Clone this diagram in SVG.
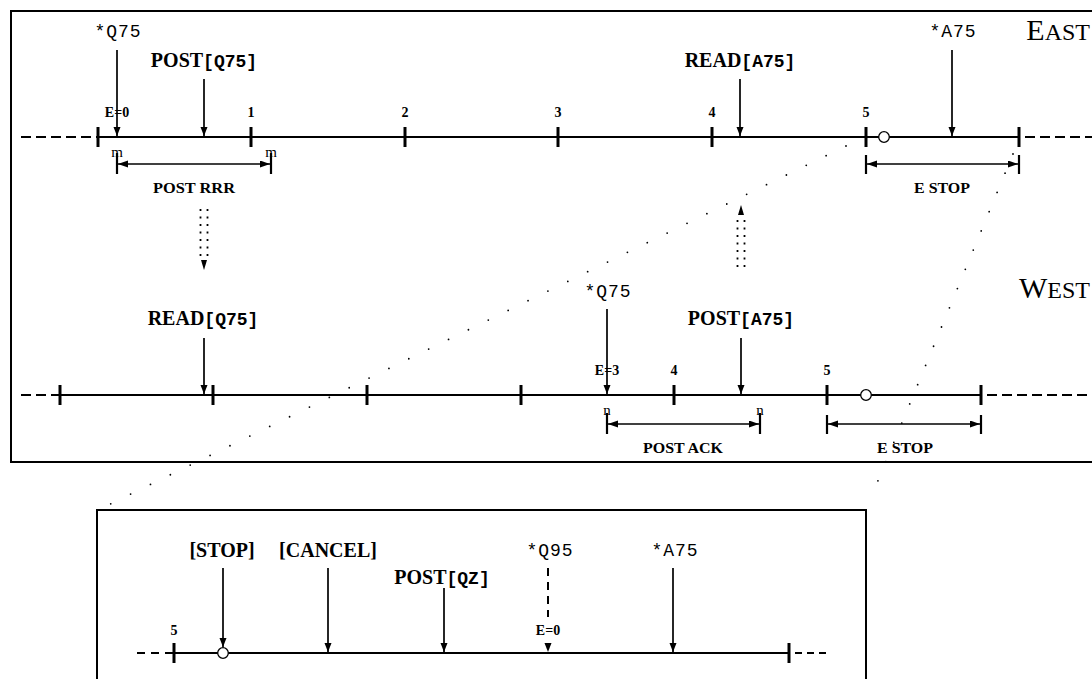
<svg xmlns="http://www.w3.org/2000/svg" width="1092" height="679" viewBox="0 0 1092 679">
<style>
.frame{fill:none;stroke:#000;stroke-width:2}
.axis{stroke:#000;stroke-width:2.2;fill:none}
.dash{stroke:#000;stroke-width:2.2;stroke-dasharray:10 5;fill:none}
.tick{stroke:#000;stroke-width:3}
.stem{stroke:#000;stroke-width:1.7;fill:none}
.dim{stroke:#000;stroke-width:1.7;fill:none}
.bar{stroke:#000;stroke-width:2.2}
.proj{stroke:#000;stroke-width:1.8;stroke-linecap:round;fill:none}
.dotcol{stroke:#000;stroke-width:1.8;stroke-dasharray:2 5.5;fill:none}
.hdr{font-family:"Liberation Serif",serif;font-weight:bold;font-size:20px;fill:#000}
.mb{font-family:"Liberation Mono",monospace;font-weight:bold;font-size:18px}
.mono{font-family:"Liberation Mono",monospace;font-size:18px;fill:#000;letter-spacing:1px}
.tk{font-family:"Liberation Serif",serif;font-weight:bold;font-size:14px;fill:#000}
.sm{font-family:"Liberation Serif",serif;font-size:15px;fill:#000}
.dl{font-family:"Liberation Serif",serif;font-weight:bold;font-size:14px;fill:#000}
.big{font-family:"Liberation Serif",serif;font-size:30px;fill:#000}
.cap{font-size:24px}
.ring{fill:#fff;stroke:#000;stroke-width:1.3}
</style>
<defs>
<marker id="ah" markerUnits="userSpaceOnUse" markerWidth="10" markerHeight="8" refX="9" refY="3.5" orient="auto"><path d="M0,0 L9,3.5 L0,7 z" fill="#000"/></marker>
<marker id="dh" markerUnits="userSpaceOnUse" markerWidth="11" markerHeight="8" refX="10" refY="3.5" orient="auto-start-reverse"><path d="M0,0 L10,3.5 L0,7 z" fill="#000"/></marker>
</defs>

<rect class="frame" x="11" y="11" width="1100" height="451"/>
<rect class="frame" x="97" y="510" width="769" height="200"/>

<g id="east-timeline">
<line class="dash" x1="21" y1="137" x2="98" y2="137"/>
<line class="axis" x1="98" y1="137" x2="1019" y2="137"/>
<line class="dash" x1="1025" y1="137" x2="1092" y2="137"/>
<g class="tick">
<line x1="98" y1="127" x2="98" y2="147"/><line x1="251" y1="127" x2="251" y2="147"/><line x1="405" y1="127" x2="405" y2="147"/><line x1="558" y1="127" x2="558" y2="147"/><line x1="712" y1="127" x2="712" y2="147"/><line x1="866" y1="127" x2="866" y2="147"/><line x1="1019" y1="127" x2="1019" y2="147"/>
</g>
<g class="tk" text-anchor="middle">
<text x="117" y="117">E=0</text><text x="251" y="117">1</text><text x="405" y="117">2</text><text x="558" y="117">3</text><text x="712" y="117">4</text><text x="866" y="117">5</text>
</g>
<circle class="ring" cx="884" cy="137" r="5.3"/>
<text class="big" x="1090" y="40" text-anchor="end">E<tspan class="cap">AST</tspan></text>
</g>

<g id="west-timeline">
<line class="dash" x1="21" y1="395" x2="60" y2="395"/>
<line class="axis" x1="60" y1="395" x2="981" y2="395"/>
<line class="dash" x1="987" y1="395" x2="1092" y2="395"/>
<g class="tick">
<line x1="60" y1="385" x2="60" y2="405"/><line x1="213" y1="385" x2="213" y2="405"/><line x1="367" y1="385" x2="367" y2="405"/><line x1="521" y1="385" x2="521" y2="405"/><line x1="674" y1="385" x2="674" y2="405"/><line x1="827" y1="385" x2="827" y2="405"/><line x1="981" y1="385" x2="981" y2="405"/>
</g>
<g class="tk" text-anchor="middle">
<text x="607" y="375">E=3</text><text x="674" y="375">4</text><text x="827" y="375">5</text>
</g>
<circle class="ring" cx="866" cy="395" r="5.3"/>
<text class="big" x="1090" y="298" text-anchor="end">W<tspan class="cap">EST</tspan></text>
</g>

<g id="detail-timeline">
<line class="dash" x1="137" y1="653" x2="174" y2="653" style="stroke-dasharray:8 6"/>
<line class="axis" x1="174" y1="653" x2="789" y2="653"/>
<line class="dash" x1="795" y1="653" x2="827" y2="653" style="stroke-dasharray:7 5"/>
<line class="tick" x1="174" y1="643" x2="174" y2="663"/>
<line class="tick" x1="789" y1="643" x2="789" y2="663"/>
<text class="tk" x="174" y="635" text-anchor="middle">5</text>
<text class="tk" x="548" y="635" text-anchor="middle">E=0</text>
<circle class="ring" cx="223" cy="653" r="5.3"/>
</g>

<g id="ev-q75-east"><text class="mono" x="118" y="37" text-anchor="middle">*Q75</text></g>
<g id="ev-post-q75"><text class="hdr" x="204" y="67" text-anchor="middle">POST<tspan class="mb">[Q75]</tspan></text></g>
<g id="ev-read-a75"><text class="hdr" x="740" y="67" text-anchor="middle">READ<tspan class="mb">[A75]</tspan></text></g>
<g id="ev-a75-east"><text class="mono" x="953" y="37" text-anchor="middle">*A75</text></g>
<g id="ev-read-q75"><text class="hdr" x="203" y="325" text-anchor="middle">READ<tspan class="mb">[Q75]</tspan></text></g>
<g id="ev-q75-west"><text class="mono" x="608" y="297" text-anchor="middle">*Q75</text></g>
<g id="ev-post-a75"><text class="hdr" x="741" y="325" text-anchor="middle">POST<tspan class="mb">[A75]</tspan></text></g>
<g id="ev-stop"><text class="hdr" x="222" y="557" text-anchor="middle">[STOP]</text></g>
<g id="ev-cancel"><text class="hdr" x="328" y="557" text-anchor="middle">[CANCEL]</text></g>
<g id="ev-post-qz"><text class="hdr" x="442" y="584" text-anchor="middle">POST<tspan class="mb">[QZ]</tspan></text></g>
<g id="ev-q95"><text class="mono" x="550" y="556" text-anchor="middle">*Q95</text></g>
<g id="ev-a75-detail"><text class="mono" x="675" y="556" text-anchor="middle">*A75</text></g>

<g id="span-post-rrr">
<text class="sm" x="117" y="157" text-anchor="middle">m</text>
<text class="sm" x="271" y="157" text-anchor="middle">m</text>
<text class="dl" x="153" y="193" textLength="82" lengthAdjust="spacingAndGlyphs">POST RRR</text>
</g>
<g id="span-estop-east"><text class="dl" x="914" y="193" textLength="56" lengthAdjust="spacingAndGlyphs">E STOP</text></g>
<g id="span-post-ack">
<text class="sm" x="607" y="415" text-anchor="middle">n</text>
<text class="sm" x="760" y="415" text-anchor="middle">n</text>
<text class="dl" x="643" y="453" textLength="80" lengthAdjust="spacingAndGlyphs">POST ACK</text>
</g>
<g id="span-estop-west"><text class="dl" x="877" y="453" textLength="56" lengthAdjust="spacingAndGlyphs">E STOP</text></g>

<g id="connectors">
<line class="stem" x1="117" y1="50" x2="117" y2="136" marker-end="url(#ah)"/>
<line class="stem" x1="204" y1="79" x2="204" y2="136" marker-end="url(#ah)"/>
<line class="stem" x1="740" y1="79" x2="740" y2="136" marker-end="url(#ah)"/>
<line class="stem" x1="952" y1="50" x2="952" y2="136" marker-end="url(#ah)"/>
<line class="stem" x1="204" y1="338" x2="204" y2="394" marker-end="url(#ah)"/>
<line class="stem" x1="607" y1="309" x2="607" y2="394" marker-end="url(#ah)"/>
<line class="stem" x1="741" y1="338" x2="741" y2="394" marker-end="url(#ah)"/>
<line class="stem" x1="223" y1="568" x2="223" y2="647" marker-end="url(#ah)"/>
<line class="stem" x1="328" y1="568" x2="328" y2="652" marker-end="url(#ah)"/>
<line class="stem" x1="444" y1="588" x2="444" y2="652" marker-end="url(#ah)"/>
<line class="stem" x1="673" y1="568" x2="673" y2="652" marker-end="url(#ah)"/>
<line class="stem" x1="548" y1="568" x2="548" y2="617" style="stroke-width:2;stroke-dasharray:8 6"/>
<path d="M544.5,643 L551.5,643 L548,652 z" fill="#000"/>

<line class="bar" x1="117" y1="153" x2="117" y2="174"/>
<line class="bar" x1="271" y1="153" x2="271" y2="174"/>
<line class="dim" x1="118" y1="164" x2="270" y2="164" marker-start="url(#dh)" marker-end="url(#dh)"/>
<line class="bar" x1="866" y1="155" x2="866" y2="174"/>
<line class="bar" x1="1019" y1="155" x2="1019" y2="174"/>
<line class="dim" x1="867" y1="164" x2="1018" y2="164" marker-start="url(#dh)" marker-end="url(#dh)"/>
<line class="bar" x1="607" y1="413" x2="607" y2="434"/>
<line class="bar" x1="760" y1="413" x2="760" y2="434"/>
<line class="dim" x1="608" y1="424" x2="759" y2="424" marker-start="url(#dh)" marker-end="url(#dh)"/>
<line class="bar" x1="827" y1="415" x2="827" y2="434"/>
<line class="bar" x1="981" y1="415" x2="981" y2="434"/>
<line class="dim" x1="828" y1="424" x2="980" y2="424" marker-start="url(#dh)" marker-end="url(#dh)"/>

<line class="dotcol" x1="200.5" y1="209" x2="200.5" y2="257"/>
<line class="dotcol" x1="207.5" y1="209" x2="207.5" y2="257"/>
<path d="M201,260 L207,260 L204,270 z" fill="#000"/>
<line class="dotcol" x1="737.5" y1="220" x2="737.5" y2="267"/>
<line class="dotcol" x1="744.5" y1="220" x2="744.5" y2="267"/>
<path d="M738,215 L744,215 L741,205 z" fill="#000"/>

<line class="proj" x1="846" y1="146" x2="100" y2="509" style="stroke-dasharray:0 22.1"/>
<line class="proj" x1="1013" y1="154" x2="870" y2="500" style="stroke-dasharray:0 20.8"/>
</g>
</svg>
